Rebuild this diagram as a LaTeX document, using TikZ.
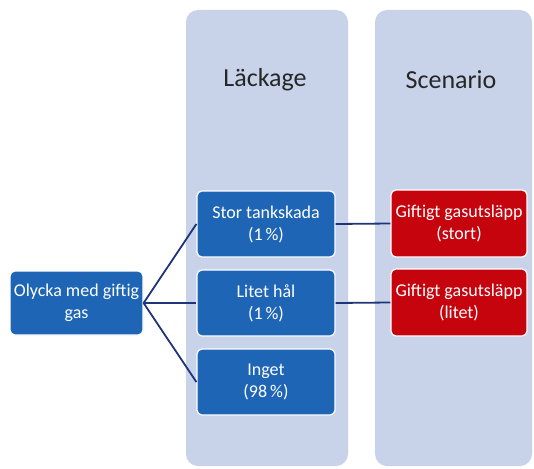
\documentclass[tikz,border=0pt]{standalone}
\usepackage{fontspec}
\setmainfont{Carlito}
\definecolor{colfill}{RGB}{200,211,233}
\definecolor{boxblue}{RGB}{30,101,181}
\definecolor{boxred}{RGB}{198,4,14}
\definecolor{linknavy}{RGB}{30,54,120}
\begin{document}
\begin{tikzpicture}[x=1pt,y=-1pt,
  colbox/.style={fill=colfill, draw=none, rounded corners=12pt, inner sep=0pt},
  coltitle/.style={font=\fontsize{26}{30}\selectfont, text=black!85},
  stepbox/.style={draw=white, line width=1.2pt, rounded corners=5pt, inner sep=2pt,
    text=white, align=center, font=\fontsize{18}{22}\selectfont},
  bluebox/.style={stepbox, fill=boxblue, minimum width=138pt, minimum height=66pt},
  redbox/.style={stepbox, fill=boxred, minimum width=136pt, minimum height=67pt},
  link/.style={draw=linknavy, line width=1.8pt}]
\useasboundingbox (0,0) rectangle (534,468);

% background columns
\node[colbox, minimum width=162pt, minimum height=456pt] (lcol) at (267,238) {};
\node[colbox, minimum width=157pt, minimum height=456pt] (scol) at (453.5,238) {};
\node[coltitle] (ltitle) at (265,80) {Läckage};
\node[coltitle] (stitle) at (451,80) {Scenario};

% event and outcomes
\node[bluebox, minimum width=133pt, minimum height=64pt, inner sep=1pt] (olycka) at (76.5,303) {Olycka med giftig\\gas};
\node[bluebox] (stor) at (266,224) {Stor tankskada\\(1\,\%)};
\node[bluebox] (litet) at (266,303) {Litet hål\\(1\,\%)};
\node[bluebox] (inget) at (266,382) {Inget\\(98\,\%)};
\node[redbox] (gstor) at (459,223.5) {Giftigt gasutsläpp\\(stort)};
\node[redbox] (glitet) at (459,302.5) {Giftigt gasutsläpp\\(litet)};

% connectors
\draw[link] (olycka.east) -- (stor.west);
\draw[link] (olycka.east) -- (litet.west);
\draw[link] (olycka.east) -- (inget.west);
\draw[link] (stor.east) -- (gstor.west);
\draw[link] (litet.east) -- (glitet.west);
\end{tikzpicture}
\end{document}
